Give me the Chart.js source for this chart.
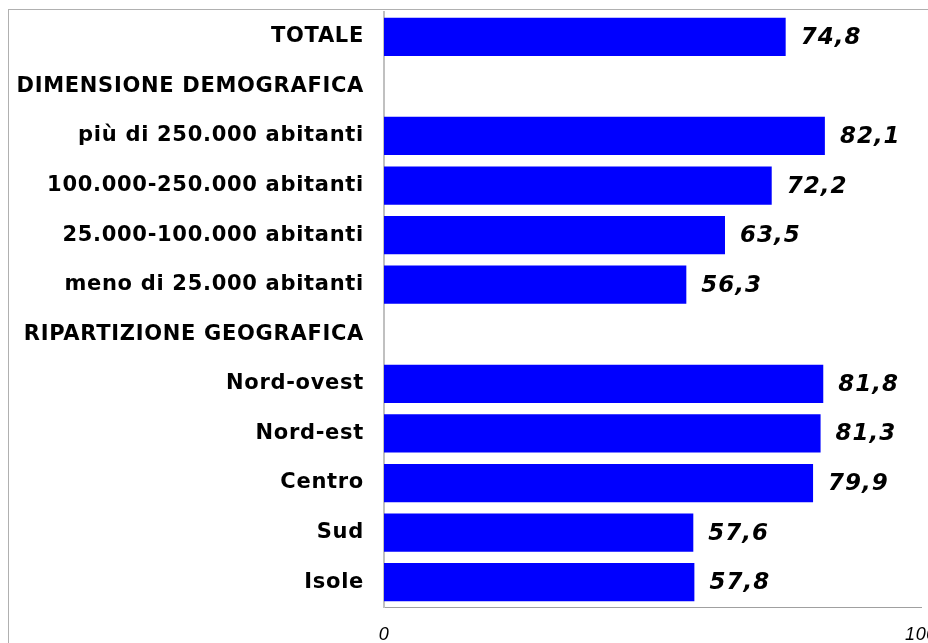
<!DOCTYPE html>
<html>
<head>
<meta charset="utf-8">
<script src="https://cdn.jsdelivr.net/npm/chart.js@4"></script>
<style>
  html, body { margin: 0; padding: 0; background: #fff; overflow: hidden; }
  #frame { position: absolute; left: 8px; top: 9px; width: 1000px; height: 700px;
           border-left: 1px solid #b0b0b0; border-top: 1px solid #b0b0b0; }
  #myChart { position: absolute; left: 0; top: 0; }
</style>
</head>
<body>
<div id="frame"></div>
<canvas id="myChart" width="940" height="643"></canvas>
<script>
//categories and values (header rows have no bar)
const categories = ['TOTALE', 'DIMENSIONE DEMOGRAFICA', 'più di 250.000 abitanti',
  '100.000-250.000 abitanti', '25.000-100.000 abitanti', 'meno di 25.000 abitanti',
  'RIPARTIZIONE GEOGRAFICA', 'Nord-ovest', 'Nord-est', 'Centro', 'Sud', 'Isole'];
const values = [74.8, null, 82.1, 72.2, 63.5, 56.3, null, 81.8, 81.3, 79.9, 57.6, 57.8];
const xTicks = [0, 100];

//a bit of letter spacing for the category labels
const spacing = {
  id: 'spacing',
  beforeDraw(chart) { chart.ctx.letterSpacing = '0.7px'; },
  afterDraw(chart) { chart.ctx.letterSpacing = '0px'; }
};

//draw the value labels to the right of each bar
const valueLabels = {
  id: 'valueLabels',
  afterDatasetsDraw(chart) {
    const ctx = chart.ctx;
    const meta = chart.getDatasetMeta(0);
    ctx.save();
    ctx.letterSpacing = '1px';
    ctx.font = 'italic bold 23px "DejaVu Sans"';
    ctx.fillStyle = '#000';
    ctx.textAlign = 'left';
    ctx.textBaseline = 'middle';
    meta.data.forEach((bar, i) => {
      const v = values[i];
      if (v === null) return;
      ctx.fillText(v.toFixed(1).replace('.', ','), bar.x + 15, bar.y + 1);
    });
    ctx.restore();
  }
};

const config = {
  type: 'bar',
  data: {
    labels: categories,
    datasets: [{
      data: values,
      backgroundColor: '#0000ff',
      borderWidth: 0,
      barPercentage: 0.77,
      categoryPercentage: 1
    }]
  },
  options: {
    indexAxis: 'y',
    responsive: false,
    animation: false,
    layout: { padding: { top: 12, right: 19, bottom: 0, left: 0 } },
    plugins: {
      legend: { display: false },
      tooltip: { enabled: false }
    },
    scales: {
      x: {
        min: 0,
        max: 100,
        afterBuildTicks: (scale) => { scale.ticks = xTicks.map(v => ({ value: v })); },
        afterFit: (scale) => {
          scale.height = 36;
          scale.paddingLeft = 0;
          scale.paddingRight = 0;
        },
        grid: { display: false, drawTicks: false },
        border: { color: '#a0a0a0', width: 1 },
        ticks: {
          padding: 17,
          color: '#000',
          font: { family: '"Liberation Sans Narrow", "Liberation Sans"', size: 18, style: 'italic' }
        }
      },
      y: {
        afterFit: (scale) => {
          scale.width = 384;
          scale.paddingTop = 0;
          scale.paddingBottom = 0;
        },
        grid: { display: false, drawTicks: false },
        border: { color: '#c0c0c0', width: 2 },
        ticks: {
          padding: 20,
          color: '#000',
          font: { family: 'DejaVu Sans', size: 21, weight: 'bold' }
        }
      }
    }
  },
  plugins: [spacing, valueLabels]
};

let myChart = new Chart(document.getElementById('myChart'), config);
</script>
</body>
</html>
